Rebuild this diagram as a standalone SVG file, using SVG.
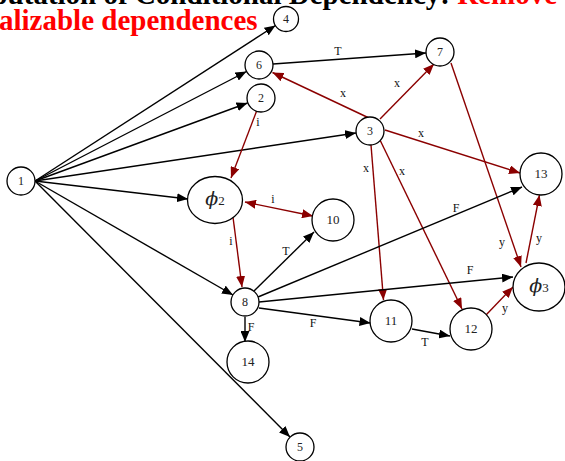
<svg xmlns="http://www.w3.org/2000/svg" width="565" height="461" viewBox="0 0 565 461">
<defs>
<style>
.n{fill:#fff;stroke:#000;stroke-width:1.3}
.t{font-family:"Liberation Serif","Times New Roman",serif;font-size:12px;fill:#222;text-anchor:middle}
.tb{font-size:13px}
.e{stroke:#000;stroke-width:1.4;fill:none;marker-end:url(#ab)}
.r{stroke:#8b0000;stroke-width:1.4;fill:none;marker-end:url(#ar)}
.l{font-family:"Liberation Serif","Times New Roman",serif;font-size:12px;fill:#111;text-anchor:middle}
.ti{font-family:"Liberation Serif","Times New Roman",serif;font-size:29px;font-weight:bold}
.ph{font-family:"DejaVu Serif","Liberation Serif",serif;font-size:19px;font-style:italic}
</style>
<marker id="ab" markerUnits="userSpaceOnUse" markerWidth="11" markerHeight="9" refX="11" refY="4.5" orient="auto-start-reverse"><path d="M0,0 L11,4.5 L0,9 z" fill="#000"/></marker>
<marker id="ar" markerUnits="userSpaceOnUse" markerWidth="11" markerHeight="9" refX="11" refY="4.5" orient="auto-start-reverse"><path d="M0,0 L11,4.5 L0,9 z" fill="#8b0000"/></marker>
</defs>
<rect width="565" height="461" fill="#fff"/>
<g id="title">
<text class="ti" x="557" y="4" text-anchor="end"><tspan fill="#000">putation of Conditional Dependency: </tspan><tspan fill="#ff0000">Remove</tspan></text>
<text class="ti" x="-1" y="30" fill="#ff0000">alizable dependences</text>
</g>
<g id="connectors">
<line class="e" x1="35" y1="181" x2="275.5" y2="25.5"/>
<line class="e" x1="35" y1="181" x2="246.5" y2="71.5"/>
<line class="e" x1="35" y1="181" x2="247.5" y2="103"/>
<line class="e" x1="35" y1="181" x2="356" y2="133"/>
<line class="e" x1="35" y1="181" x2="188" y2="199"/>
<line class="e" x1="35" y1="181" x2="233" y2="295"/>
<line class="e" x1="35" y1="181" x2="290" y2="437"/>
<line class="e" x1="273" y1="64" x2="426" y2="53"/>
<line class="r" x1="369" y1="118" x2="272.5" y2="72.5"/>
<line class="r" x1="380" y1="119" x2="434" y2="64"/>
<line class="r" x1="385" y1="130" x2="520" y2="173"/>
<line class="r" x1="371" y1="145" x2="383.5" y2="300"/>
<line class="r" x1="380" y1="140" x2="462" y2="309"/>
<line class="r" x1="451" y1="63" x2="521" y2="267"/>
<line class="r" x1="526" y1="263" x2="539.5" y2="195"/>
<line class="r" x1="486" y1="315" x2="513" y2="287"/>
<line class="r" x1="257" y1="110" x2="231" y2="178"/>
<line class="r" x1="245" y1="202" x2="313" y2="216" marker-start="url(#ar)"/>
<line class="r" x1="233" y1="217" x2="242" y2="287"/>
<line class="e" x1="254" y1="291" x2="314" y2="232"/>
<line class="e" x1="258" y1="297" x2="522" y2="187"/>
<line class="e" x1="259" y1="302" x2="513" y2="277"/>
<line class="e" x1="259" y1="308" x2="370.5" y2="323"/>
<line class="e" x1="245" y1="317" x2="245" y2="342"/>
<line class="e" x1="412" y1="329" x2="450" y2="336"/>
<text class="l" x="338" y="55">T</text>
<text class="l" x="343" y="97">x</text>
<text class="l" x="258" y="126">i</text>
<text class="l" x="397" y="87">x</text>
<text class="l" x="421" y="137">x</text>
<text class="l" x="366" y="172">x</text>
<text class="l" x="402" y="175">x</text>
<text class="l" x="273" y="203">i</text>
<text class="l" x="231" y="245">i</text>
<text class="l" x="286" y="255">T</text>
<text class="l" x="456" y="212">F</text>
<text class="l" x="502" y="246">y</text>
<text class="l" x="539" y="242">y</text>
<text class="l" x="470" y="274">F</text>
<text class="l" x="505" y="312">y</text>
<text class="l" x="425" y="346">T</text>
<text class="l" x="313" y="327">F</text>
<text class="l" x="251" y="331">F</text>
</g>
<g id="n1"><circle class="n" cx="21" cy="181" r="14"/><text class="t" x="21" y="185">1</text></g>
<g id="n4"><circle class="n" cx="286" cy="19" r="12.5"/><text class="t" x="286" y="23">4</text></g>
<g id="n6"><circle class="n" cx="259" cy="65" r="14"/><text class="t" x="259" y="69">6</text></g>
<g id="n2"><circle class="n" cx="261" cy="98" r="14"/><text class="t" x="261" y="102">2</text></g>
<g id="n3"><circle class="n" cx="370" cy="131" r="14"/><text class="t" x="370" y="135">3</text></g>
<g id="n7"><circle class="n" cx="440" cy="52" r="14"/><text class="t" x="440" y="56">7</text></g>
<g id="n13"><circle class="n" cx="541" cy="174" r="21"/><text class="t tb" x="541" y="178">13</text></g>
<g id="nphi2"><ellipse class="n" cx="215" cy="200" rx="27.5" ry="23.5"/><text class="t" x="215" y="205"><tspan class="ph">ϕ</tspan><tspan font-size="13">2</tspan></text></g>
<g id="n10"><circle class="n" cx="333" cy="220" r="21"/><text class="t tb" x="333" y="224">10</text></g>
<g id="n8"><circle class="n" cx="245" cy="302" r="14"/><text class="t" x="245" y="306">8</text></g>
<g id="n14"><circle class="n" cx="248" cy="362" r="21"/><text class="t tb" x="248" y="366">14</text></g>
<g id="n11"><circle class="n" cx="391" cy="321" r="21"/><text class="t tb" x="391" y="325">11</text></g>
<g id="n12"><circle class="n" cx="471" cy="329" r="21"/><text class="t tb" x="471" y="333">12</text></g>
<g id="nphi3"><ellipse class="n" cx="539" cy="287" rx="26" ry="24"/><text class="t" x="539" y="292"><tspan class="ph">ϕ</tspan><tspan font-size="13">3</tspan></text></g>
<g id="n5"><circle class="n" cx="300" cy="447" r="14"/><text class="t" x="300" y="451">5</text></g>
</svg>
